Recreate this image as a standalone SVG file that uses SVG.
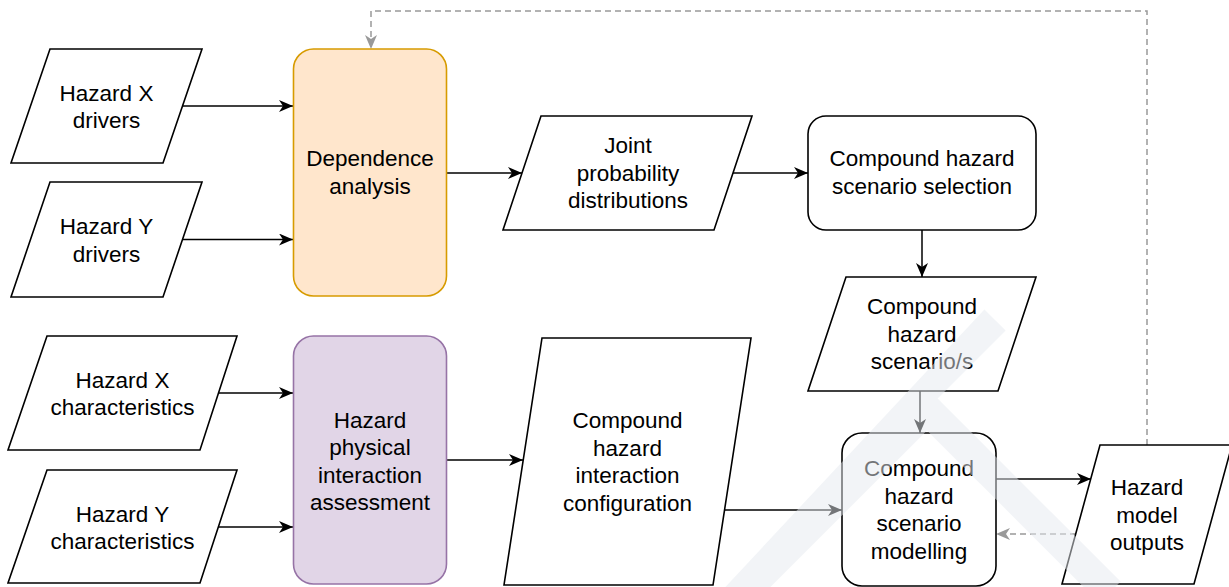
<svg xmlns="http://www.w3.org/2000/svg" width="1229" height="587" viewBox="0 0 1229 587">
  <style>
    .shape { fill: #ffffff; stroke: #000000; stroke-width: 1.6; }
    .dep { fill: #ffe6cc; stroke: #d79b00; stroke-width: 1.6; }
    .phys { fill: #e1d5e7; stroke: #9673a6; stroke-width: 1.6; }
    .lbl { font-family: "Liberation Sans", Arial, sans-serif; font-size: 22.5px; fill: #000000; text-anchor: middle; }
    .edge { fill: none; stroke: #000000; stroke-width: 1.5; }
    .dash { fill: none; stroke: #999999; stroke-width: 1.5; stroke-dasharray: 6 4; }
    .mark { fill: #e6e9f0; }
  </style>
  <defs>
    <marker id="arrow" markerUnits="userSpaceOnUse" markerWidth="15" markerHeight="13" refX="14" refY="6" orient="auto">
      <path d="M0,0 L14,6 L0,12 L4,6 Z" fill="#000000"/>
    </marker>
    <marker id="arrowGrey" markerUnits="userSpaceOnUse" markerWidth="15" markerHeight="13" refX="14" refY="6" orient="auto">
      <path d="M0,0 L14,6 L0,12 L4,6 Z" fill="#999999"/>
    </marker>
  </defs>

  <rect x="0" y="0" width="1229" height="587" fill="#ffffff"/>

  <!-- connectors -->
  <g id="connectors">
    <line class="edge" x1="182.5" y1="106" x2="293" y2="106" marker-end="url(#arrow)"/>
    <line class="edge" x1="182.5" y1="239.5" x2="293" y2="239.5" marker-end="url(#arrow)"/>
    <line class="edge" x1="218.5" y1="393" x2="293" y2="393" marker-end="url(#arrow)"/>
    <line class="edge" x1="218.5" y1="527" x2="293" y2="527" marker-end="url(#arrow)"/>
    <line class="edge" x1="447" y1="173" x2="522" y2="173" marker-end="url(#arrow)"/>
    <line class="edge" x1="733" y1="173" x2="808" y2="173" marker-end="url(#arrow)"/>
    <line class="edge" x1="922" y1="230" x2="922" y2="277" marker-end="url(#arrow)"/>
    <line class="edge" x1="447" y1="460" x2="523" y2="460" marker-end="url(#arrow)"/>
    <line class="edge" x1="724" y1="510" x2="842" y2="510" marker-end="url(#arrow)"/>
    <line class="edge" x1="920" y1="391" x2="920" y2="433" marker-end="url(#arrow)"/>
    <line class="edge" x1="996" y1="479" x2="1091" y2="479" marker-end="url(#arrow)"/>
    <line class="dash" x1="1076" y1="534" x2="996" y2="534" marker-end="url(#arrowGrey)"/>
    <polyline class="dash" points="1147,445 1147,11 371,11 371,49" marker-end="url(#arrowGrey)"/>
  </g>

  <!-- inputs -->
  <g id="hazard-x-drivers">
    <polygon class="shape" points="50,49 202,49 163,163 11,163"/>
    <text class="lbl" x="106.5" y="100.5">Hazard X</text>
    <text class="lbl" x="106.5" y="128">drivers</text>
  </g>
  <g id="hazard-y-drivers">
    <polygon class="shape" points="50,182 202,182 163,297 11,297"/>
    <text class="lbl" x="106.5" y="234">Hazard Y</text>
    <text class="lbl" x="106.5" y="261.5">drivers</text>
  </g>
  <g id="hazard-x-characteristics">
    <polygon class="shape" points="47,336 237,336 200,450 8,450"/>
    <text class="lbl" x="122.5" y="387.5">Hazard X</text>
    <text class="lbl" x="122.5" y="415">characteristics</text>
  </g>
  <g id="hazard-y-characteristics">
    <polygon class="shape" points="47,470 237,470 200,583 8,583"/>
    <text class="lbl" x="122.5" y="521.5">Hazard Y</text>
    <text class="lbl" x="122.5" y="549">characteristics</text>
  </g>

  <!-- analysis steps -->
  <g id="dependence-analysis">
    <rect class="dep" x="293.5" y="49" width="153" height="247" rx="20" ry="20"/>
    <text class="lbl" x="370" y="166">Dependence</text>
    <text class="lbl" x="370" y="193.5">analysis</text>
  </g>
  <g id="physical-interaction">
    <rect class="phys" x="293.5" y="336" width="153" height="248" rx="20" ry="20"/>
    <text class="lbl" x="370" y="427.5">Hazard</text>
    <text class="lbl" x="370" y="455">physical</text>
    <text class="lbl" x="370" y="482.5">interaction</text>
    <text class="lbl" x="370" y="510">assessment</text>
  </g>

  <g id="joint-probability">
    <polygon class="shape" points="541,116 752,116 714,230 503,230"/>
    <text class="lbl" x="628" y="153">Joint</text>
    <text class="lbl" x="628" y="180.5">probability</text>
    <text class="lbl" x="628" y="208">distributions</text>
  </g>
  <g id="interaction-configuration">
    <polygon class="shape" points="542,338 751,338 713,585 504,585"/>
    <text class="lbl" x="627.5" y="428">Compound</text>
    <text class="lbl" x="627.5" y="455.5">hazard</text>
    <text class="lbl" x="627.5" y="483">interaction</text>
    <text class="lbl" x="627.5" y="510.5">configuration</text>
  </g>

  <g id="scenario-selection">
    <rect class="shape" x="808" y="116" width="228" height="114" rx="18" ry="18"/>
    <text class="lbl" x="922" y="166">Compound hazard</text>
    <text class="lbl" x="922" y="193.5">scenario selection</text>
  </g>
  <g id="scenarios">
    <polygon class="shape" points="846,277 1036,277 998,391 808,391"/>
    <text class="lbl" x="922" y="314">Compound</text>
    <text class="lbl" x="922" y="341.5">hazard</text>
    <text class="lbl" x="922" y="369">scenario/s</text>
  </g>
  <g id="scenario-modelling">
    <rect class="shape" x="842" y="433" width="154" height="153" rx="20" ry="20"/>
    <text class="lbl" x="919" y="476">Compound</text>
    <text class="lbl" x="919" y="503.5">hazard</text>
    <text class="lbl" x="919" y="531">scenario</text>
    <text class="lbl" x="919" y="558.5">modelling</text>
  </g>
  <g id="model-outputs">
    <polygon class="shape" points="1100,445 1232,445 1194,584 1062,584"/>
    <text class="lbl" x="1147" y="495">Hazard</text>
    <text class="lbl" x="1147" y="522.5">model</text>
    <text class="lbl" x="1147" y="550">outputs</text>
  </g>

  <!-- faint diagonal bands over the lower right -->
  <g id="bands" opacity="0.5">
    <path class="mark" d="M984.4,309.4 L1005.6,330.6 L937.6,398.6 L1120.6,581.6 L1099.4,602.8 L927,430.4 L710.6,646.8 L689.4,625.6 Z"/>
  </g>
</svg>
